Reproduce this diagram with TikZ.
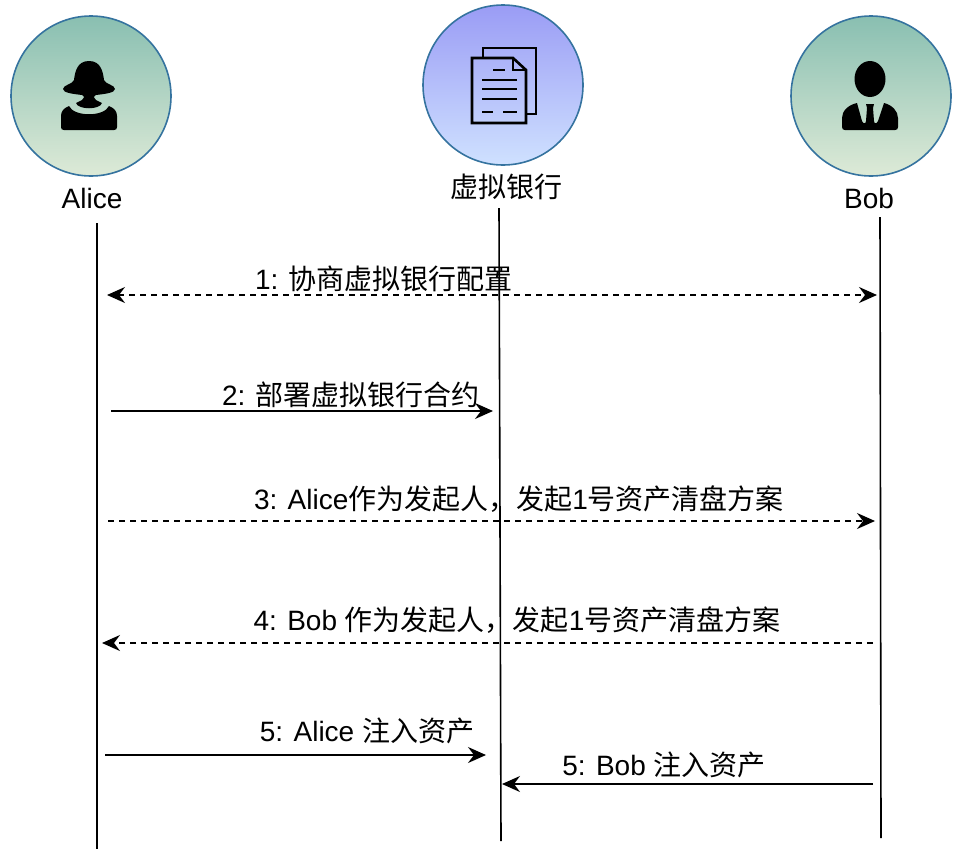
\documentclass[tikz,border=0pt]{standalone}
\usepackage{xcolor}
\usepackage{fontspec}
\usetikzlibrary{arrows.meta}
\setmainfont{Liberation Sans}
\newfontfamily\cjk{Noto Sans CJK SC}
\definecolor{ringblue}{HTML}{35739F}
\definecolor{greentop}{HTML}{89BFB1}
\definecolor{greenbot}{HTML}{DDEAD7}
\definecolor{bluetop}{HTML}{9A9CF5}
\definecolor{bluebot}{HTML}{CFE1FF}
\tikzset{
  person/.style={circle,draw=ringblue,line width=1.6pt,minimum size=160pt,inner sep=0pt,top color=greentop,bottom color=greenbot},
  bank/.style={circle,draw=ringblue,line width=1.6pt,minimum size=160pt,inner sep=0pt,top color=bluetop,bottom color=bluebot},
  txt/.style={inner sep=0pt,font=\fontsize{28}{32}\selectfont},
  lifeline/.style={line width=1.6pt},
  msg/.style={line width=1.6pt,-{Stealth[length=18pt,width=16pt,inset=6pt]}},
  dashmsg/.style={msg,dash pattern=on 6pt off 5pt},
  twomsg/.style={dashmsg,{Stealth[length=18pt,width=16pt,inset=6pt]}-{Stealth[length=18pt,width=16pt,inset=6pt]}},
  docline/.style={line width=2.6pt}
}
\begin{document}
\begin{tikzpicture}[x=1pt,y=-1pt]
\useasboundingbox (0,0) rectangle (960,852);
% Circles on top
\node[person] (alice) at (91,96) {};
\node[bank] (vbank) at (503,85) {};
\node[person] (bob) at (871,96) {};
\node[txt] (alicetxt) at (92,198) {Alice};
\node[txt] (vbanktxt) at (506,187) {\cjk 虚拟银行};
\node[txt] (bobtxt) at (869,198) {Bob};
% Alice icon
\fill (89,61) .. controls (77,61) and (75,72) .. (74,80) .. controls (73,84) and (63,85) .. (63,89)
  .. controls (63,93) and (74,94) .. (82,95) .. controls (85,96) and (84,99) .. (82,100) -- (76,103)
  .. controls (78,110) and (100,110) .. (102,103) -- (96,100) .. controls (94,99) and (93,96) .. (96,95)
  .. controls (104,94) and (115,93) .. (115,89) .. controls (115,85) and (105,84) .. (104,80)
  .. controls (103,72) and (101,61) .. (89,61) -- cycle;
\fill (69,106) .. controls (74,117) and (104,117) .. (109,106) .. controls (114,108) and (117,111) .. (117,116)
  -- (117,127) .. controls (117,129) and (116,130) .. (114,130) -- (64,130)
  .. controls (62,130) and (61,129) .. (61,127) -- (61,116) .. controls (61,111) and (64,108) .. (69,106) -- cycle;
% Bob icon
\fill (870,79) ellipse [x radius=15.5pt,y radius=18pt];
\fill (857,103) -- (862,121) .. controls (863,124) and (866,124) .. (866,121) -- (867,108) -- (866,104) -- (874,104) -- (873,108) -- (874,121)
  .. controls (874,124) and (877,124) .. (878,121) -- (884,103) .. controls (892,105) and (898,111) .. (898,118)
  -- (898,127) .. controls (898,129) and (897,130) .. (895,130) -- (845,130)
  .. controls (843,130) and (842,129) .. (842,127) -- (842,118) .. controls (842,111) and (848,105) .. (857,103) -- cycle;
% Bank icon
\draw[docline] (483,58) -- (483,48) -- (536,48) -- (536,114) -- (526,114);
\draw[docline] (472,58) -- (513,58) -- (526,70) -- (526,123) -- (472,123) -- cycle;
\draw[docline] (513,58) -- (513,70) -- (526,70);
\draw[docline] (493,70) -- (505,70);
\draw[docline] (482,80) -- (517,80);
\draw[docline] (482,89) -- (517,89);
\draw[docline] (482,99) -- (517,99);
\draw[docline] (482,112) -- (493,112);
\draw[docline] (503,112) -- (517,112);
% Lifelines
\coordinate (a0) at (97,223);
\coordinate (a1) at (97,849);
\coordinate (v0) at (499,208);
\coordinate (v1) at (501,841);
\coordinate (b0) at (880,217);
\coordinate (b1) at (881,838);
\draw[lifeline] (a0) -- (a1);
\draw[lifeline] (v0) -- (v1);
\draw[lifeline] (b0) -- (b1);
% Messages
\coordinate (m1a) at (107,295);
\coordinate (m1b) at (877,295);
\coordinate (m2a) at (111,411);
\coordinate (m2b) at (493,411);
\coordinate (m3a) at (108,521);
\coordinate (m3b) at (875,521);
\coordinate (m4a) at (873,643);
\coordinate (m4b) at (102,643);
\coordinate (m5a) at (105,755);
\coordinate (m5b) at (486,755);
\coordinate (m6a) at (873,784);
\coordinate (m6b) at (502,784);
\draw[twomsg] (m1a) -- (m1b);
\draw[msg] (m2a) -- (m2b);
\draw[dashmsg] (m3a) -- (m3b);
\draw[dashmsg] (m4a) -- (m4b);
\draw[msg] (m5a) -- (m5b);
\draw[msg] (m6a) -- (m6b);
\node[txt] (m1txt) at (384,279) {1: {\cjk 协商虚拟银行配置}};
\node[txt] (m2txt) at (351,395) {2: {\cjk 部署虚拟银行合约}};
\node[txt] (m3txt) at (519,499) {3: Alice{\cjk 作为发起人，发起}1{\cjk 号资产清盘方案}};
\node[txt] (m4txt) at (517,620) {4: Bob {\cjk 作为发起人，发起}1{\cjk 号资产清盘方案}};
\node[txt] (m5txt) at (367,731) {5: Alice {\cjk 注入资产}};
\node[txt] (m6txt) at (664,765) {5: Bob {\cjk 注入资产}};
\end{tikzpicture}
\end{document}
